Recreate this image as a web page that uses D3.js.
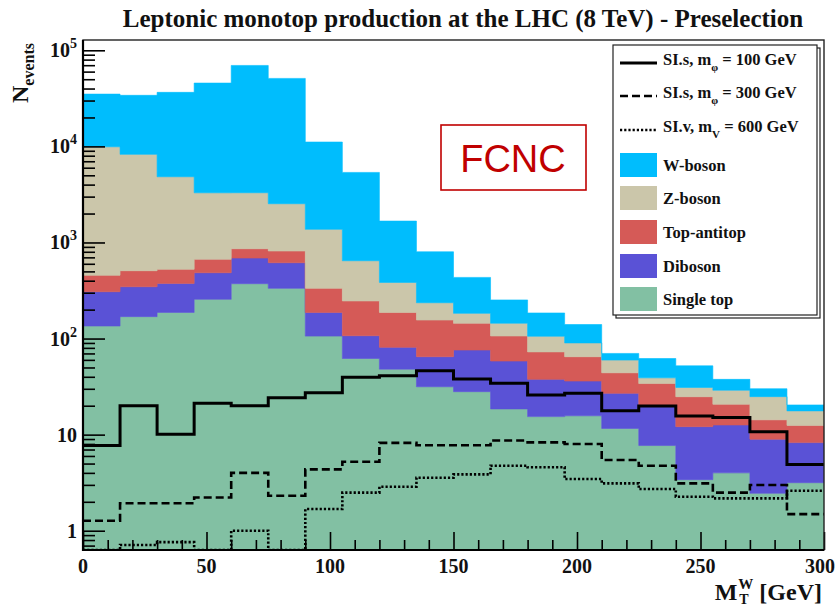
<!DOCTYPE html>
<html>
<head>
<meta charset="utf-8">
<script src="https://cdn.jsdelivr.net/npm/d3@7"></script>
<style>
  html, body { margin: 0; padding: 0; background: #fff; }
  svg { display: block; }
  .serif { font-family: "Liberation Serif", "DejaVu Serif", serif; font-weight: bold; }
</style>
</head>
<body>
<svg id="chart" width="836" height="608"></svg>
<script>
// ---- Histogram binning: lower edges of the 15 GeV bins of M_T^W ----
const binLow = [0, 15, 30, 45, 60, 75, 90, 105, 120, 135, 150, 165, 180, 195, 210, 225, 240, 255, 270, 285];
const binWidth = 15;

// ---- Background processes (events per bin, stacked) ----
const singleTop = [135, 169, 187, 256, 372, 333, 106, 62, 48, 31.5, 28, 18.5, 15.4, 15.7, 11.6, 7.7, 3.4, 4.0, 2.45, 3.16];
const diboson   = [172, 177, 188, 228, 316, 282, 81, 45, 33, 33.2, 47.9, 39.8, 22.2, 20.4, 15.3, 12.5, 8.7, 8.6, 6.5, 5.1];
const topAntitop = [148, 162, 150, 183, 172, 199, 146, 139, 106, 91, 68, 48, 35, 28.6, 17.1, 13.8, 12.7, 8.1, 5.3, 4.2];
const zBoson    = [9445, 7750, 4305, 2620, 2430, 1716, 1037, 399, 197, 80, 39, 38, 33, 25.3, 15.7, 5, 6.2, 8.3, 10.6, 5.2];
const wBoson    = [25100, 25740, 31670, 42310, 66310, 48470, 9730, 4715, 1286, 564, 250, 108, 79, 50, 10.3, 23, 21, 8.6, 5.2, 2.7];

// ---- Signal hypotheses (events per bin, overlaid) ----
const sigScalar100 = [7.7, 20, 10.1, 21.2, 20, 24.2, 27.3, 39.5, 41, 46.2, 37.9, 34.2, 25.8, 26.9, 17.7, 19.9, 15.6, 15.1, 10.7, 4.9];
const sigScalar300 = [1.27, 1.93, 1.93, 2.22, 4.0, 2.31, 4.35, 5.22, 8.2, 7.75, 7.75, 8.7, 8.3, 8.0, 5.44, 4.75, 3.11, 2.49, 2.99, 1.49];
const sigVector600 = [0, 0.71, 0.76, 0, 1.0, 0, 1.68, 2.49, 2.87, 3.56, 3.86, 4.75, 4.57, 3.45, 3.11, 2.72, 2.26, 2.17, 2.17, 2.61];

// ---- Names, colours, ticks ----
const processNames  = ["Single top", "Diboson", "Top-antitop", "Z-boson", "W-boson"];
const processSeries = [singleTop, diboson, topAntitop, zBoson, wBoson];
const processColors = ["#82c0a3", "#5a52d6", "#d55a57", "#cbc6aa", "#00bdfd"];

const signalSeries = [sigScalar100, sigScalar300, sigVector600];
const signalDash   = [null, "8,4", "2.2,2"];
const signalWidth  = [3, 2.6, 2.6];

const xTickMajor = [0, 50, 100, 150, 200, 250, 300];
const xTickLabels = ["0", "50", "100", "150", "200", "250", "300"];
const yTickMajor = [1, 10, 100, 1000, 10000, 100000];
const yTickBase  = ["1", "10", "10", "10", "10", "10"];
const yTickExp   = ["", "", "2", "3", "4", "5"];

const titleText = "Leptonic monotop production at the LHC (8 TeV) - Preselection";

// ---- Frame geometry ----
const plot = { left: 83, right: 824, top: 40, bottom: 550 };
const svg = d3.select("#chart");

const x = d3.scaleLinear().domain([0, 300]).range([plot.left, plot.right]);
const y = d3.scaleLog().domain([0.63, 1.28e5]).range([plot.bottom, plot.top]).clamp(true);

svg.append("defs").append("clipPath").attr("id", "plotClip")
  .append("rect")
  .attr("x", plot.left).attr("y", plot.top)
  .attr("width", plot.right - plot.left).attr("height", plot.bottom - plot.top);

const gPlot = svg.append("g").attr("clip-path", "url(#plotClip)");

// ---- Stacked background histograms ----
const rows = binLow.map((lo, i) => {
  const r = { lo: lo, hi: lo + binWidth };
  processNames.forEach((n, k) => { r[n] = processSeries[k][i]; });
  return r;
});
const stacked = d3.stack().keys(processNames)(rows);

const stepArea = d3.area()
  .x(p => x(p.x))
  .y0(p => y(p.b))
  .y1(p => y(p.t));

stacked.forEach((layer, k) => {
  const pts = [];
  layer.forEach(d => {
    pts.push({ x: d.data.lo, b: d[0], t: d[1] });
    pts.push({ x: d.data.hi, b: d[0], t: d[1] });
  });
  gPlot.append("path")
    .attr("d", stepArea(pts))
    .attr("fill", processColors[k])
    .attr("stroke", processColors[k])
    .attr("stroke-width", 0.6);
});

// ---- Signal step lines ----
const stepLine = d3.line().x(p => x(p.x)).y(p => y(p.v));
signalSeries.forEach((series, k) => {
  const pts = [];
  series.forEach((v, i) => {
    pts.push({ x: binLow[i], v: v });
    pts.push({ x: binLow[i] + binWidth, v: v });
  });
  gPlot.append("path")
    .attr("d", stepLine(pts))
    .attr("fill", "none")
    .attr("stroke", "#000")
    .attr("stroke-width", signalWidth[k])
    .attr("stroke-dasharray", signalDash[k]);
});

// ---- Axes (ROOT style: ticks pointing into the frame) ----
const yMinor = y.ticks().filter(v => !yTickMajor.includes(v));
const xMinor = d3.range(0, 301, 10).filter(v => v % 50 !== 0);

function styleAxis(g) {
  g.select(".domain").remove();
  g.selectAll("line").attr("stroke", "#000").attr("stroke-width", 1.6);
}

svg.append("g").attr("transform", `translate(${plot.left},0)`)
  .call(d3.axisLeft(y).tickValues(yTickMajor).tickSize(-22).tickFormat(""))
  .call(styleAxis);
svg.append("g").attr("transform", `translate(${plot.left},0)`)
  .call(d3.axisLeft(y).tickValues(yMinor).tickSize(-12).tickFormat(""))
  .call(styleAxis);
svg.append("g").attr("transform", `translate(0,${plot.bottom})`)
  .call(d3.axisBottom(x).tickValues(xTickMajor).tickSize(-18).tickFormat(""))
  .call(styleAxis);
svg.append("g").attr("transform", `translate(0,${plot.bottom})`)
  .call(d3.axisBottom(x).tickValues(xMinor).tickSize(-10).tickFormat(""))
  .call(styleAxis);

// frame
svg.append("rect")
  .attr("x", plot.left).attr("y", plot.top)
  .attr("width", plot.right - plot.left).attr("height", plot.bottom - plot.top)
  .attr("fill", "none").attr("stroke", "#222").attr("stroke-width", 1.4);
svg.append("line").attr("x1", plot.left).attr("x2", plot.left)
  .attr("y1", plot.top).attr("y2", plot.bottom + 1).attr("stroke", "#000").attr("stroke-width", 2.2);
svg.append("line").attr("x1", plot.left - 1).attr("x2", plot.right)
  .attr("y1", plot.bottom).attr("y2", plot.bottom).attr("stroke", "#000").attr("stroke-width", 2.2);

// y tick labels with powers of ten
const yLab = svg.append("g").attr("class", "serif").attr("font-size", 20).attr("fill", "#111");
yTickMajor.forEach((v, i) => {
  const t = yLab.append("text")
    .attr("x", 77).attr("y", y(v) + 7)
    .attr("text-anchor", "end");
  t.append("tspan").text(yTickBase[i]);
  if (yTickExp[i]) {
    t.append("tspan").attr("font-size", 14).attr("dy", -9).text(yTickExp[i]);
  }
});

// x tick labels (the last one is kept inside the page edge)
const xLab = svg.append("g").attr("class", "serif").attr("font-size", 20).attr("fill", "#111")
  .selectAll("text").data(xTickMajor).join("text")
  .attr("x", d => x(d)).attr("y", 573)
  .attr("text-anchor", "middle")
  .text((d, i) => xTickLabels[i]);
xLab.each(function (d) {
  const w = this.getComputedTextLength();
  const cx = Math.min(x(d), 835 - w / 2);
  d3.select(this).attr("x", cx);
});

// ---- Title ----
svg.append("text").attr("class", "serif")
  .attr("x", 463).attr("y", 27).attr("font-size", 25)
  .attr("text-anchor", "middle").attr("fill", "#111")
  .text(titleText);

// ---- Axis titles ----
const yTitle = svg.append("text").attr("class", "serif").attr("fill", "#111")
  .attr("transform", "translate(28,103) rotate(-90)");
yTitle.append("tspan").attr("font-size", 24).text("N");
yTitle.append("tspan").attr("font-size", 16).attr("dy", 6).text("events");

const xt = svg.append("g").attr("class", "serif").attr("fill", "#111");
const gev = xt.append("text").attr("x", 822).attr("y", 600).attr("font-size", 24)
  .attr("text-anchor", "end").text("[GeV]");
const gevW = gev.node().getComputedTextLength();
const supW = xt.append("text").attr("font-size", 15).attr("y", 589).text("W");
const subT = xt.append("text").attr("font-size", 14).attr("y", 604).text("T");
const scriptW = Math.max(supW.node().getComputedTextLength(), subT.node().getComputedTextLength());
const scriptX = 822 - gevW - 6 - scriptW;
supW.attr("x", scriptX);
subT.attr("x", scriptX + 1);
xt.append("text").attr("font-size", 24).attr("x", scriptX - 1).attr("y", 600)
  .attr("text-anchor", "end").text("M");

// ---- FCNC tag ----
svg.append("rect").attr("x", 441).attr("y", 125).attr("width", 145).attr("height", 65)
  .attr("fill", "#fff").attr("stroke", "#c00000").attr("stroke-width", 1.6);
svg.append("text").attr("x", 513).attr("y", 172)
  .attr("font-family", "Liberation Sans, Arial, sans-serif")
  .attr("font-size", 38).attr("fill", "#c00000").attr("text-anchor", "middle")
  .text("FCNC");

// ---- Legend ----
const leg = { x: 613, y: 45, w: 204, h: 270 };
svg.append("rect").attr("x", leg.x + 3).attr("y", leg.y + 3).attr("width", leg.w).attr("height", leg.h)
  .attr("fill", "#fff").attr("stroke", "#222").attr("stroke-width", 1.2);
svg.append("rect").attr("x", leg.x).attr("y", leg.y).attr("width", leg.w).attr("height", leg.h)
  .attr("fill", "#fff").attr("stroke", "#222").attr("stroke-width", 1.2);

const legRowsY = [60, 93, 127, 165, 198, 232, 266, 299];
const legG = svg.append("g").attr("class", "serif").attr("fill", "#111").attr("font-size", 16.5);

const signalLegend = [
  { pre: "SI.s, m", sub: "\u03c6", post: " = 100 GeV" },
  { pre: "SI.s, m", sub: "\u03c6", post: " = 300 GeV" },
  { pre: "SI.v, m", sub: "V", post: " = 600 GeV" }
];
signalLegend.forEach((e, k) => {
  const cy = legRowsY[k];
  legG.append("line").attr("x1", 620).attr("x2", 657).attr("y1", cy + 3).attr("y2", cy + 3)
    .attr("stroke", "#000").attr("stroke-width", signalWidth[k])
    .attr("stroke-dasharray", signalDash[k]);
  const t = legG.append("text").attr("x", 663).attr("y", cy + 5);
  t.append("tspan").text(e.pre);
  t.append("tspan").attr("font-size", 11).attr("dy", 6).text(e.sub);
  t.append("tspan").attr("dy", -6).text(e.post);
});

// background processes listed top of stack first
const legendOrder = [4, 3, 2, 1, 0];
legendOrder.forEach((k, j) => {
  const cy = legRowsY[3 + j];
  legG.append("rect").attr("x", 620).attr("y", cy - 12).attr("width", 37).attr("height", 24)
    .attr("fill", processColors[k]);
  legG.append("text").attr("x", 663).attr("y", cy + 6).text(processNames[k]);
});
</script>
</body>
</html>
